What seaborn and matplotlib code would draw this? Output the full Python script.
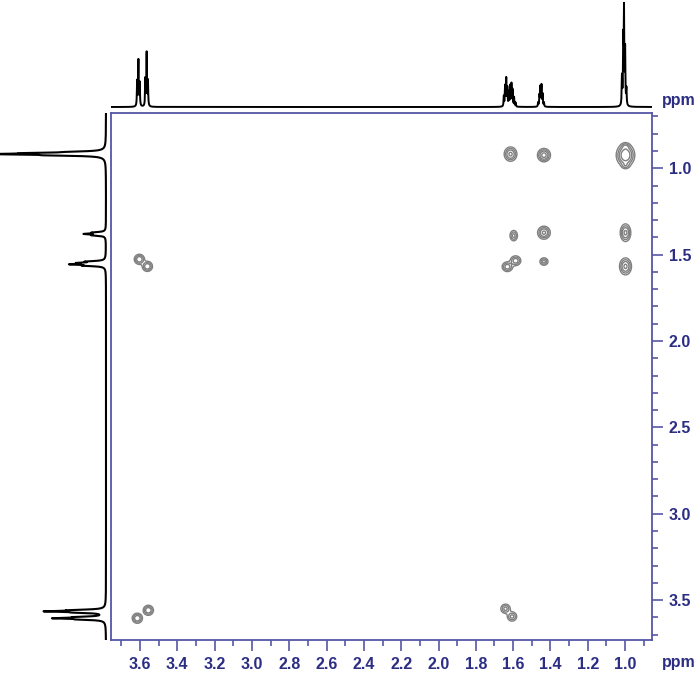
import matplotlib

matplotlib.use("Agg")
import matplotlib.pyplot as plt
from matplotlib.ticker import FixedLocator, MultipleLocator, FixedFormatter
import numpy as np
import pandas as pd
import seaborn as sns

# --- 1D trace on top (F2): line positions (ppm) and heights
top_shift = [3.615, 3.608, 3.601, 3.571, 3.564, 3.557,
             1.650, 1.643, 1.637, 1.631, 1.623, 1.616, 1.609, 1.603, 1.595, 1.587,
             1.466, 1.459, 1.454, 1.448, 1.442, 1.435,
             1.017, 1.010, 1.006, 1.000, 0.993]
top_height = [25, 46, 23, 27, 53, 25,
              10, 20, 27, 18, 14, 20, 22, 16, 9, 4,
              4, 11, 19, 21, 12, 4,
              28, 62, 92, 55, 16]

# --- 1D trace on the left (F1)
side_shift = [0.905, 0.912, 0.918, 0.925,
              1.372, 1.380, 1.388,
              1.540, 1.548, 1.556, 1.564,
              3.558, 3.565, 3.572, 3.598, 3.605, 3.612]
side_height = [22, 55, 92, 40,
               11, 19, 11,
               16, 22, 30, 18,
               27, 52, 22, 22, 45, 20]

# --- cross peaks: F2 shift, F1 shift, widths, amplitude
cp_f2 = [1.614, 1.435, 0.998, 0.998, 0.998,
         1.597, 1.435, 0.998,
         1.631, 1.587, 1.435, 0.998,
         3.603, 3.560,
         3.555, 3.614,
         1.641, 1.606]
cp_f1 = [0.918, 0.924, 0.924, 0.872, 0.985,
         1.390, 1.373, 1.373,
         1.570, 1.535, 1.540, 1.568,
         1.527, 1.568,
         3.559, 3.605,
         3.550, 3.595]
cp_wx = [0.018, 0.018, 0.024, 0.013, 0.013,
         0.012, 0.018, 0.015,
         0.016, 0.016, 0.013, 0.017,
         0.015, 0.015,
         0.015, 0.015,
         0.015, 0.015]
cp_wy = [0.022, 0.020, 0.032, 0.011, 0.011,
         0.018, 0.020, 0.027,
         0.016, 0.016, 0.013, 0.026,
         0.016, 0.016,
         0.016, 0.016,
         0.016, 0.016]
cp_amp = [0.9, 1.0, 1.3, 0.3, 0.3,
          0.6, 0.9, 0.9,
          0.7, 0.7, 0.6, 0.9,
          0.8, 0.8,
          0.8, 0.8,
          0.6, 0.6]

x_ticks = [3.6, 3.4, 3.2, 3.0, 2.8, 2.6, 2.4, 2.2, 2.0, 1.8, 1.6, 1.4, 1.2, 1.0]
x_labels = ["3.6", "3.4", "3.2", "3.0", "2.8", "2.6", "2.4", "2.2", "2.0", "1.8",
            "1.6", "1.4", "1.2", "1.0"]
y_ticks = [1.0, 1.5, 2.0, 2.5, 3.0, 3.5]
y_labels = ["1.0", "1.5", "2.0", "2.5", "3.0", "3.5"]

XLIM = (3.755, 0.856)
YLIM = (3.731, 0.68)
NAVY = "#2b2e83"
FRAME = "#5557a6"

sns.set_theme(style="white")
plt.rcParams["font.family"] = ["Liberation Sans", "DejaVu Sans"]


def lorentz(grid, shifts, heights, hw):
    out = np.zeros_like(grid)
    for s, h in zip(shifts, heights):
        out += h / (1 + ((grid - s) / hw) ** 2)
    return out


W, H = 699, 685
fig = plt.figure(figsize=(W / 100, H / 100), dpi=100)

L, R, T, B = 111, 652, 113, 640
ax = fig.add_axes([L / W, 1 - B / H, (R - L) / W, (B - T) / H])
ax_top = fig.add_axes([L / W, 1 - 110 / H, (R - L) / W, 108 / H])
ax_side = fig.add_axes([0, 1 - B / H, 108 / W, (B - T) / H])

# contour map
gx = np.linspace(XLIM[1], XLIM[0], 900)
gy = np.linspace(YLIM[1], YLIM[0], 900)
X, Y = np.meshgrid(gx, gy)
Z = np.zeros_like(X)
for x0, y0, sx, sy, a in zip(cp_f2, cp_f1, cp_wx, cp_wy, cp_amp):
    Z += a * np.exp(-((X - x0) ** 2 / (2 * sx ** 2) + (Y - y0) ** 2 / (2 * sy ** 2)))
ax.contour(X, Y, Z, levels=[0.15, 0.3, 0.5, 0.8], colors="0.5", linewidths=1.0)

ax.set_xlim(*XLIM)
ax.set_ylim(*YLIM)
ax.xaxis.set_major_locator(FixedLocator(x_ticks))
ax.xaxis.set_major_formatter(FixedFormatter(x_labels))
ax.xaxis.set_minor_locator(MultipleLocator(0.1))
ax.yaxis.set_major_locator(FixedLocator(y_ticks))
ax.yaxis.set_major_formatter(FixedFormatter(y_labels))
ax.yaxis.set_minor_locator(MultipleLocator(0.1))
ax.yaxis.tick_right()
ax.tick_params(axis="both", which="both", direction="out", colors=FRAME,
               labelcolor=NAVY, labelsize=11.5, width=1.2)
ax.tick_params(axis="both", which="major", length=8, pad=4)
ax.tick_params(axis="both", which="minor", length=4)
ax.tick_params(axis="x", which="both", bottom=True, top=False)
ax.tick_params(axis="y", which="both", right=True, left=False)
for lab in ax.get_xticklabels() + ax.get_yticklabels():
    lab.set_fontweight("bold")
for sp in ax.spines.values():
    sp.set_color(FRAME)
    sp.set_linewidth(1.3)
ax.grid(False)

# top 1D trace
tx = np.linspace(XLIM[1], XLIM[0], 8000)
top_df = pd.DataFrame({"ppm": tx, "I": lorentz(tx, top_shift, top_height, 0.0016)})
sns.lineplot(data=top_df, x="ppm", y="I", ax=ax_top, color="black", lw=1.4,
             sort=False, estimator=None)
ax_top.set_xlim(*XLIM)
ax_top.set_ylim(-3, 105)
ax_top.axis("off")

# side 1D trace
sy_ = np.linspace(YLIM[1], YLIM[0], 8000)
side_df = pd.DataFrame({"ppm": sy_, "I": lorentz(sy_, side_shift, side_height, 0.0035)})
sns.lineplot(data=side_df, x="I", y="ppm", ax=ax_side, color="black", lw=1.5,
             sort=False, estimator=None, orient="y")
ax_side.set_ylim(*YLIM)
ax_side.set_xlim(106, -2)
ax_side.axis("off")

for yy in (100, 663):
    fig.text(679 / W, 1 - yy / H, "ppm", color=NAVY, fontsize=11.5, fontweight="bold",
             ha="center", va="center")

fig.savefig("out.png", dpi=100)
